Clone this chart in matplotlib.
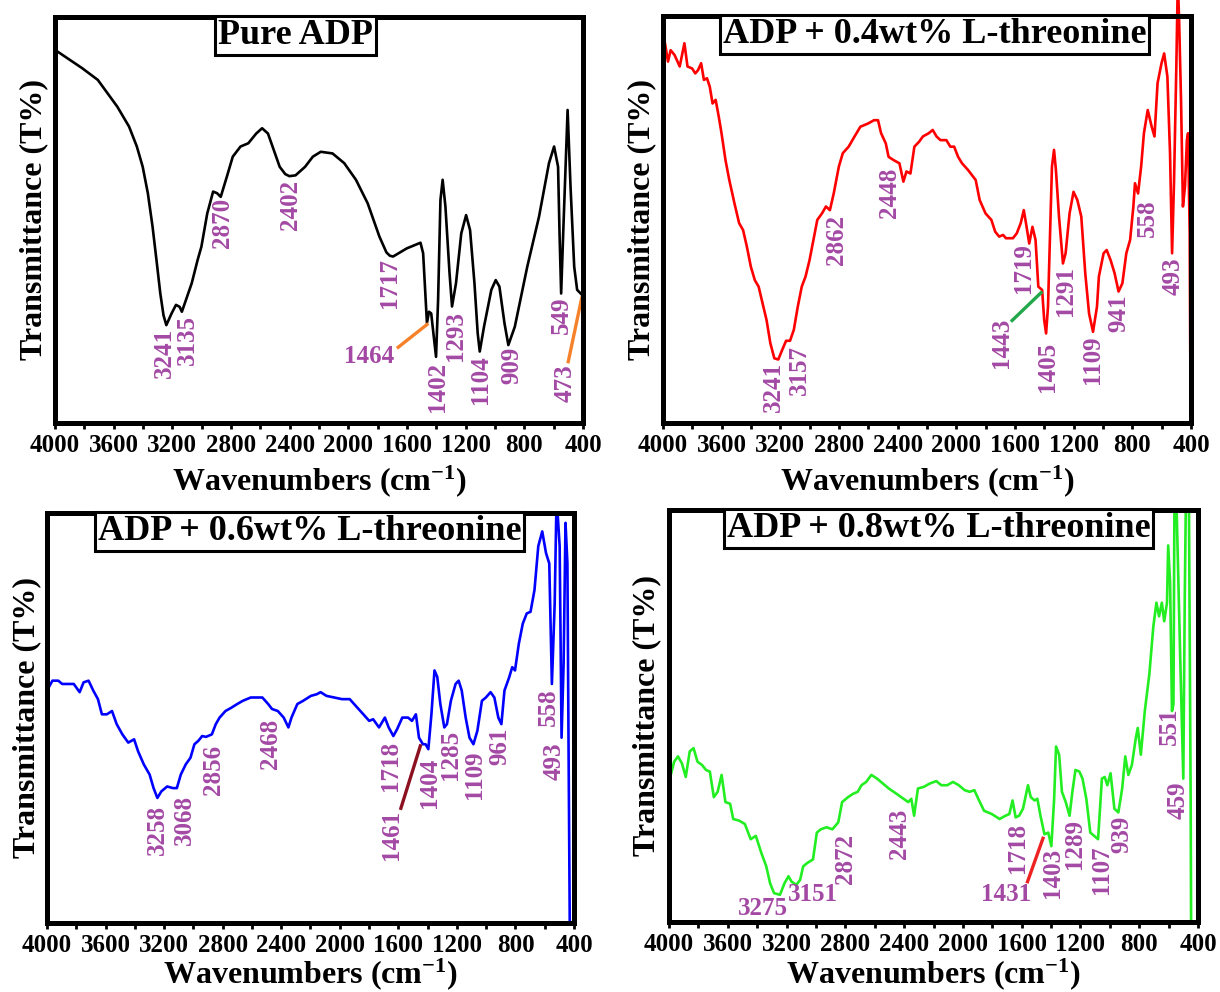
import matplotlib
matplotlib.use('Agg')
import matplotlib.pyplot as plt
from matplotlib.ticker import MultipleLocator

plt.rcParams['font.family'] = 'Liberation Serif'
plt.rcParams['font.weight'] = 'bold'
plt.rcParams['mathtext.fontset'] = 'custom'
plt.rcParams['mathtext.rm'] = 'Liberation Serif:bold'
plt.rcParams['mathtext.it'] = 'Liberation Serif:bold'
plt.rcParams['mathtext.bf'] = 'Liberation Serif:bold'

# FTIR spectra: wavenumber (cm-1) vs transmittance (arbitrary %)
# Pure ADP
wn1 = [4000, 3815, 3708, 3575, 3495, 3442, 3402, 3367, 3335, 3308,
       3282, 3260, 3241, 3205, 3175, 3150, 3135, 3068, 3028, 3002,
       2962, 2922, 2895, 2870, 2828, 2788, 2735, 2682, 2628, 2588,
       2548, 2508, 2468, 2430, 2402, 2360, 2295, 2242, 2188, 2108,
       2028, 1948, 1868, 1788, 1740, 1717, 1695, 1602, 1508, 1490,
       1475, 1464, 1450, 1435, 1420, 1402, 1388, 1372, 1357, 1338,
       1310, 1293, 1266, 1230, 1197, 1170, 1140, 1118, 1104, 1075,
       1025, 995, 970, 935, 909, 865, 780, 700, 632, 597,
       570, 560, 549, 535, 505, 485, 460, 440, 405]
t1 = [91.9, 87.4, 84.5, 77.9, 73.0, 68.1, 63.1, 56.6, 48.4, 40.1,
      31.9, 26.5, 24.1, 27.0, 29.1, 28.6, 27.4, 34.4, 40.1, 43.4,
      51.6, 57.0, 56.6, 55.7, 60.7, 65.6, 68.1, 68.9, 71.3, 72.6,
      71.3, 67.2, 63.1, 61.3, 60.8, 61.0, 63.1, 65.6, 66.8, 66.4,
      64.0, 59.9, 54.1, 45.9, 42.0, 41.2, 41.0, 43.0, 44.4, 41.8,
      31.9, 24.6, 27.4, 27.0, 22.1, 16.3, 30.3, 54.9, 59.9, 53.3,
      36.9, 28.7, 34.4, 46.7, 51.2, 47.5, 34.4, 22.1, 17.6, 23.7,
      32.8, 35.2, 33.6, 24.5, 19.2, 23.7, 38.5, 50.8, 64.0, 68.1,
      63.1, 46.7, 31.9, 46.7, 77.1, 58.2, 38.5, 32.8, 31.5]

# ADP + 0.4 wt% L-threonine
wn2 = [4000, 3966, 3948, 3921, 3886, 3854, 3833, 3801, 3780, 3761,
       3740, 3721, 3700, 3681, 3662, 3641, 3620, 3601, 3574, 3548,
       3513, 3481, 3454, 3428, 3401, 3374, 3348, 3321, 3294, 3268,
       3241, 3214, 3188, 3161, 3134, 3108, 3081, 3054, 3028, 3001,
       2974, 2948, 2916, 2889, 2862, 2836, 2801, 2774, 2734, 2694,
       2654, 2601, 2561, 2534, 2513, 2481, 2462, 2428, 2388, 2361,
       2340, 2313, 2286, 2254, 2228, 2188, 2161, 2135, 2108, 2068,
       2041, 2015, 1988, 1961, 1921, 1868, 1841, 1801, 1761, 1735,
       1708, 1681, 1662, 1641, 1614, 1588, 1561, 1540, 1521, 1503,
       1481, 1460, 1441, 1415, 1401, 1388, 1375, 1361, 1348, 1334,
       1321, 1300, 1273, 1255, 1228, 1201, 1175, 1148, 1121, 1095,
       1068, 1041, 1028, 996, 975, 948, 921, 894, 868, 841,
       815, 793, 782, 761, 740, 721, 695, 668, 649, 628,
       601, 583, 561, 543, 529, 516, 500, 492, 486, 481,
       468, 455, 441, 428, 420, 409, 404, 400]
t2 = [96.2, 88.8, 91.6, 90.4, 87.6, 93.3, 87.6, 87.1, 85.9, 86.7,
      88.4, 84.3, 84.7, 82.6, 78.5, 79.4, 75.3, 71.2, 64.6, 59.7,
      54.0, 49.1, 47.4, 43.3, 38.4, 35.1, 33.5, 29.4, 25.3, 19.6,
      15.9, 15.6, 17.9, 20.2, 20.2, 22.9, 28.6, 33.5, 36.0, 40.0,
      45.0, 49.9, 51.5, 53.2, 52.3, 56.4, 63.0, 66.3, 67.9, 70.4,
      72.8, 73.6, 74.4, 74.4, 71.2, 68.7, 65.4, 64.6, 63.8, 59.3,
      61.8, 61.3, 67.9, 69.1, 70.4, 71.2, 72.0, 70.4, 69.5, 69.5,
      67.9, 67.9, 65.4, 63.8, 62.2, 59.7, 54.8, 51.5, 49.9, 47.0,
      45.8, 46.2, 45.4, 45.4, 45.4, 46.6, 49.1, 52.3, 48.2, 44.1,
      48.2, 45.0, 33.5, 32.7, 25.3, 22.0, 28.6, 46.6, 63.0, 67.1,
      62.2, 50.7, 39.2, 41.7, 51.5, 56.8, 54.8, 50.7, 36.8, 26.9,
      22.4, 28.6, 36.0, 41.7, 42.5, 40.0, 36.8, 32.3, 34.3, 41.7,
      45.0, 53.2, 58.9, 56.4, 63.0, 71.2, 76.9, 72.8, 70.4, 83.5,
      88.4, 90.8, 85.1, 66.3, 41.7, 58.9, 87.6, 104.5, 104.5, 99.0,
      79.4, 53.2, 58.1, 69.5, 71.2, 46.6, 9.7, 0.0]

# ADP + 0.6 wt% L-threonine
wn3 = [4000, 3963, 3923, 3896, 3856, 3817, 3777, 3750, 3716, 3684,
       3652, 3625, 3591, 3556, 3524, 3485, 3445, 3405, 3378, 3339,
       3299, 3272, 3246, 3219, 3179, 3140, 3113, 3086, 3052, 3020,
       2993, 2967, 2940, 2914, 2874, 2847, 2821, 2781, 2741, 2701,
       2662, 2608, 2569, 2529, 2489, 2463, 2423, 2383, 2351, 2330,
       2290, 2250, 2197, 2157, 2131, 2091, 2038, 1985, 1932, 1892,
       1839, 1799, 1772, 1732, 1692, 1666, 1634, 1608, 1573, 1533,
       1507, 1480, 1459, 1432, 1414, 1395, 1374, 1353, 1334, 1313,
       1286, 1268, 1241, 1209, 1188, 1167, 1140, 1114, 1087, 1060,
       1029, 1002, 970, 944, 917, 896, 875, 843, 822, 803,
       777, 750, 723, 697, 670, 644, 617, 591, 569, 551,
       532, 519, 498, 485, 471, 458, 445, 437, 429]
t3 = [56.7, 59.1, 59.1, 58.3, 58.3, 58.3, 56.3, 58.7, 59.1, 56.7,
      54.6, 50.9, 50.9, 51.7, 48.5, 46.0, 44.0, 44.8, 41.9, 38.7,
      36.2, 32.9, 30.5, 32.1, 33.3, 32.9, 32.9, 36.2, 38.7, 40.3,
      43.6, 44.4, 45.6, 45.4, 46.0, 48.5, 50.1, 51.7, 52.5, 53.4,
      54.2, 55.0, 55.0, 55.0, 53.4, 52.2, 51.7, 50.1, 47.7, 50.1,
      53.4, 54.2, 55.4, 55.8, 56.3, 55.4, 55.0, 54.6, 54.6, 53.0,
      50.9, 49.3, 49.7, 47.7, 50.1, 47.7, 45.6, 47.3, 50.1, 50.1,
      49.3, 50.9, 45.2, 43.6, 43.6, 42.4, 50.9, 61.6, 60.0, 53.4,
      47.7, 48.5, 54.2, 58.3, 59.1, 56.7, 50.1, 45.2, 43.6, 46.9,
      54.2, 55.0, 56.3, 55.0, 50.1, 48.5, 56.7, 59.9, 62.4, 61.6,
      68.1, 73.0, 75.5, 75.9, 81.2, 91.9, 95.5, 90.2, 87.7, 58.3,
      77.9, 104.0, 91.9, 45.2, 63.2, 97.6, 87.7, 41.9, 0.0]

# ADP + 0.8 wt% L-threonine
wn4 = [4000, 3965, 3939, 3912, 3886, 3859, 3833, 3806, 3775, 3748,
       3722, 3695, 3669, 3642, 3616, 3584, 3563, 3523, 3484, 3444,
       3409, 3372, 3338, 3312, 3285, 3245, 3214, 3187, 3166, 3134,
       3108, 3087, 3060, 3020, 2994, 2967, 2928, 2888, 2848, 2822,
       2782, 2748, 2716, 2690, 2658, 2623, 2584, 2544, 2504, 2451,
       2404, 2372, 2351, 2332, 2306, 2266, 2226, 2181, 2147, 2107,
       2067, 2028, 1988, 1954, 1922, 1890, 1856, 1803, 1750, 1710,
       1684, 1662, 1641, 1617, 1591, 1557, 1538, 1512, 1493, 1472,
       1445, 1419, 1398, 1379, 1366, 1345, 1326, 1300, 1274, 1255,
       1234, 1207, 1186, 1160, 1133, 1107, 1080, 1054, 1035, 1017,
       995, 969, 942, 916, 895, 874, 850, 823, 810, 789,
       762, 731, 704, 683, 665, 646, 630, 611, 603, 590,
       577, 567, 560, 548, 520, 500, 490, 482, 462, 450, 447]
t4 = [34.0, 38.9, 40.2, 38.5, 35.2, 41.4, 42.2, 38.9, 38.1, 36.9,
      36.5, 30.3, 31.6, 35.7, 29.1, 28.7, 25.0, 24.6, 23.8, 20.1,
      20.9, 16.8, 13.5, 9.4, 7.0, 6.6, 9.4, 11.1, 9.8, 9.0,
      10.2, 13.5, 14.3, 15.2, 21.7, 22.5, 23.0, 22.5, 24.2, 29.1,
      30.3, 31.1, 31.6, 33.2, 34.0, 35.7, 34.8, 33.6, 32.4, 31.1,
      29.9, 29.1, 29.9, 25.8, 32.4, 32.8, 33.6, 34.2, 33.2, 33.2,
      34.0, 33.2, 32.0, 31.6, 32.0, 29.5, 27.0, 26.2, 25.0, 25.8,
      26.2, 29.5, 25.4, 25.8, 27.5, 33.2, 30.3, 29.5, 29.9, 25.8,
      21.3, 21.7, 18.4, 29.9, 42.6, 40.6, 31.6, 29.1, 25.8, 31.6,
      36.9, 36.5, 34.8, 29.9, 21.7, 20.9, 20.1, 34.8, 35.2, 33.2,
      36.1, 27.5, 26.6, 32.4, 40.2, 35.7, 38.1, 44.7, 47.1, 40.6,
      51.2, 60.2, 71.7, 77.5, 74.2, 77.5, 73.0, 77.5, 91.4, 82.4,
      51.2, 52.9, 104.0, 104.0, 62.7, 34.8, 79.1, 104.0, 104.0, 30.0, 0.0]

titles = ['Pure ADP', 'ADP + 0.4wt% L-threonine',
          'ADP + 0.6wt% L-threonine', 'ADP + 0.8wt% L-threonine']

# peak labels: (text, x, y, rotation)
peaks1 = [('3241', 3255, 17.3, 90), ('3135', 3095, 20.4, 90), ('2870', 2860, 49.2, 90),
          ('2402', 2396, 53.7, 90), ('1717', 1722, 34.6, 90), ('1464', 1855, 16.5, 0),
          ('1402', 1394, 8.9, 90), ('1293', 1269, 21.3, 90), ('1104', 1101, 10.6, 90),
          ('909', 887, 14.3, 90), ('549', 549, 26.6, 90), ('473', 522, 9.8, 90)]
peaks2 = [('3241', 3246, 8.9, 90), ('3157', 3068, 13.0, 90), ('2862', 2820, 45.0, 90),
          ('2448', 2454, 56.6, 90), ('1719', 1540, 38.0, 90), ('1443', 1694, 19.6, 90),
          ('1405', 1380, 13.8, 90), ('1291', 1255, 32.3, 90), ('1109', 1073, 15.5, 90),
          ('941', 894, 26.9, 90), ('558', 700, 50.3, 90), ('493', 521, 36.0, 90)]
peaks3 = [('3258', 3246, 22.7, 90), ('3068', 3060, 25.2, 90), ('2856', 2866, 37.4, 90),
          ('2468', 2476, 43.6, 90), ('1718', 1653, 38.3, 90), ('1461', 1645, 21.5, 90),
          ('1404', 1387, 34.2, 90), ('1285', 1246, 41.1, 90), ('1109', 1077, 36.2, 90),
          ('961', 904, 43.2, 90), ('558', 577, 52.6, 90), ('493', 538, 39.5, 90)]
peaks4 = [('3275', 3364, 3.3, 0), ('3151', 3020, 6.6, 0), ('2872', 2801, 15.2, 90),
          ('2443', 2430, 21.3, 90), ('1718', 1631, 18.0, 90), ('1431', 1705, 6.6, 0),
          ('1403', 1392, 11.9, 90), ('1289', 1239, 18.9, 90), ('1107', 1054, 12.7, 90),
          ('939', 916, 21.3, 90), ('551', 598, 47.5, 90), ('459', 532, 29.5, 90)]

# pointer lines from a label to its band: ((x0, x1), (y0, y1))
pointers1 = [((1669, 1455), (18.4, 24.5)), ((503, 407), (14.7, 31.1))]
pointers2 = [((1628, 1414), (24.9, 32.3))]
pointers3 = [((1586, 1446), (27.6, 43.6))]
pointers4 = [((1564, 1451), (9.4, 20.7))]

W, H = 1220, 992
fig = plt.figure(figsize=(W / 100, H / 100), dpi=100)
fig.patch.set_facecolor('white')

purple = '#a349a4'


def draw_panel(box, wn, t, color, title, title_x, peaks, pointers, pcolor,
               clip=True, ylab_x=-0.012, xlab_y=-0.098):
    x0, y0, x1, y1 = box
    ax = fig.add_axes([x0 / W, 1 - y1 / H, (x1 - x0) / W, (y1 - y0) / H])
    ax.plot(wn, t, color=color, lw=1.9, clip_on=clip, zorder=3)
    ax.set_xlim(4000, 400)
    ax.set_ylim(0, 100)
    ax.set_yticks([])
    ax.xaxis.set_major_locator(MultipleLocator(400))
    ax.xaxis.set_minor_locator(MultipleLocator(200))
    ax.tick_params(axis='x', which='major', direction='out', length=4, width=2,
                   labelsize=18, pad=4)
    ax.tick_params(axis='x', which='minor', direction='out', length=4, width=2)
    for lbl in ax.get_xticklabels():
        lbl.set_fontweight('bold')
    for s in ax.spines.values():
        s.set_linewidth(3.6)
        s.set_zorder(6)
    ax.set_xlabel('Wavenumbers (cm$^{-1}$)', fontsize=23, fontweight='bold')
    ax.set_ylabel('Transmittance (T%)', fontsize=23, fontweight='bold')
    ax.xaxis.set_label_coords(0.5, xlab_y)
    ax.yaxis.set_label_coords(ylab_x, 0.5)

    # sample name in a framed box
    ax.text(title_x, 0.955, title, transform=ax.transAxes, ha='center', va='center',
            fontsize=26, fontweight='bold', zorder=7,
            bbox=dict(boxstyle='square,pad=0.08', fc='white', ec='black', lw=2.2))

    for txt, px, py, rot in peaks:
        ax.text(px, py, txt, color=purple, fontsize=18, fontweight='bold',
                rotation=rot, ha='center', va='center', zorder=4)
    for xs, ys in pointers:
        ax.plot(xs, ys, color=pcolor, lw=2.4, solid_capstyle='butt', zorder=4)
    return ax


draw_panel((55, 17, 583, 423), wn1, t1, 'black', titles[0], 0.455,
           peaks1, pointers1, '#f5822a')
draw_panel((663, 16, 1191, 423), wn2, t2, '#ff0000', titles[1], 0.514,
           peaks2, pointers2, '#22a84a', clip=False, ylab_x=-0.013)
draw_panel((47, 513, 574, 923), wn3, t3, '#0000ff', titles[2], 0.498,
           peaks3, pointers3, '#8b1020', ylab_x=-0.011, xlab_y=-0.082)
draw_panel((669, 510, 1198, 922), wn4, t4, '#22ee22', titles[3], 0.51,
           peaks4, pointers4, '#ee2222', ylab_x=-0.015, xlab_y=-0.082)

fig.savefig('out.png', dpi=100)
